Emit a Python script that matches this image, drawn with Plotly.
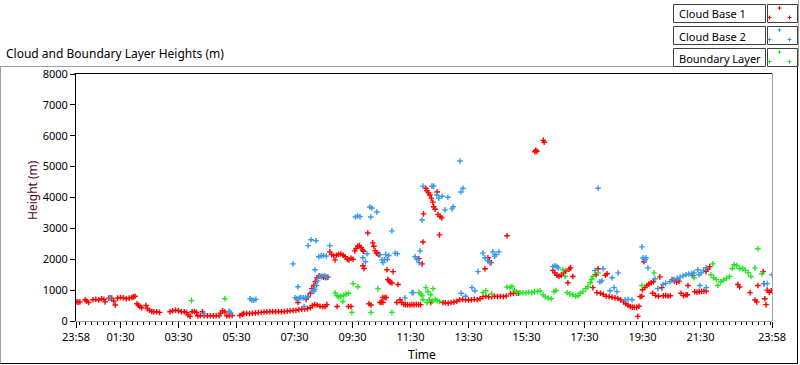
import plotly.graph_objects as go

# ---------------- data (time in hours of day, height in m) ----------------
red_t = [-0.03, 0.03, 0.1, 0.28, 0.33, 0.4, 0.55, 0.65, 0.75, 0.85, 0.93, 0.97,
         1.1, 1.2, 1.27, 1.32, 1.4, 1.5, 1.6, 1.7, 1.8, 1.9, 1.95, 2.0,
         2.07, 2.12, 2.17, 2.23, 2.38, 2.43, 2.5, 2.58, 2.65, 2.75, 2.85,
         3.21, 3.3, 3.4, 3.5, 3.6, 3.7, 3.78, 3.83, 3.9, 3.97, 4.05, 4.12,
         4.17, 4.25, 4.33, 4.38, 4.5, 4.6, 4.7, 4.8, 4.9, 4.95, 5.02, 5.1,
         5.17, 5.25, 5.35, 5.62, 5.7, 5.75, 5.85, 5.95, 6.05, 6.15, 6.25, 6.35,
         6.45, 6.55, 6.65, 6.75, 6.85, 6.95, 7.05, 7.15, 7.25, 7.35, 7.45, 7.55,
         7.62, 7.65, 7.75, 7.85, 7.95, 8.05, 8.12, 8.2, 8.28, 8.38, 8.48, 8.55, 8.62,
         7.9, 7.97, 8.05, 8.1, 8.17, 8.22, 8.28, 8.35, 8.42, 8.5, 8.58, 8.65,
         8.72, 8.78, 8.85, 8.9, 8.95, 9.02, 9.1, 9.18, 9.25, 9.32, 9.38, 9.45, 9.52,
         9.58, 9.62, 9.68, 9.74, 9.8, 9.85, 9.88, 9.86, 9.9, 10.03,
         10.2, 10.24, 10.28, 10.33, 10.38, 10.42, 10.69, 10.72, 10.76, 10.8, 10.86, 10.9, 11.07,
         8.97, 9.36, 9.45, 10.07, 10.14, 10.45, 10.5, 10.55, 10.55, 10.62, 10.66, 11.03,
         11.14, 11.2, 11.27, 11.33, 11.4, 11.48, 11.55, 11.62, 11.7, 11.78, 11.85,
         11.79, 11.9, 11.93, 11.95, 12.03, 12.07, 12.12, 12.17, 12.22, 12.27, 12.3, 12.35,
         12.42, 12.45, 12.5, 12.52, 12.58,
         12.2, 12.62, 12.7, 12.8, 12.9, 13.0, 13.1, 13.2, 13.3, 13.4, 13.5, 13.6, 13.7,
         13.8, 13.9, 14.0, 14.1, 14.2, 14.3, 14.4, 14.5, 14.6, 14.7, 14.8, 14.95, 15.05,
         15.15, 15.22, 14.07, 14.17, 14.22, 14.28, 14.83,
         15.79, 15.82, 15.86, 16.08, 16.11,
         16.41, 16.48, 16.55, 16.62, 16.7, 16.78, 16.85, 16.93, 16.97, 17.02, 17.1,
         17.79, 17.9, 17.93, 17.97, 18.05, 18.15, 18.22, 18.28, 18.25, 18.35, 18.45,
         18.55, 18.65, 18.75, 18.85, 18.92, 19.0, 19.08, 19.15, 19.22, 19.3, 19.34,
         19.38, 19.42, 19.48, 19.5, 19.55, 19.58, 19.65, 19.72, 19.8, 19.88, 19.85,
         19.95, 20.05, 20.1, 20.17, 20.22, 20.3, 20.38, 20.46, 20.52, 20.6, 20.68,
         20.76, 20.83, 20.92, 21.0, 21.05, 21.07, 21.24, 21.3, 21.38, 21.46, 21.54,
         21.62, 21.7, 21.69, 21.75, 21.82, 22.79, 22.85, 23.21, 23.38, 23.44, 23.48,
         23.66, 23.69, 23.72, 23.76, 23.8, 23.87, 23.94]
red_h = [620, 610, 620, 690, 650, 600, 690, 700, 680, 720, 700, 620,
         740, 740, 650, 520, 740, 760, 750, 720, 740, 760, 780, 800,
         560, 510, 470, 430, 500, 400, 350, 310, 300, 300, 280,
         300, 330, 350, 330, 300, 300, 270, 200, 150, 300, 310, 280,
         170, 170, 300, 170, 170, 170, 170, 170, 170, 250, 330, 290,
         170, 170, 180, 180, 220, 240, 250, 240, 250, 260, 270, 280,
         290, 300, 300, 310, 300, 310, 300, 310, 320, 330, 340, 350,
         600, 370, 380, 390, 400, 430, 500, 530, 520, 480, 460, 470, 530,
         700, 780, 900, 1050, 1150, 1280, 1400, 1460, 1440, 1420, 1400, 1420,
         2240, 2150, 2120, 1980, 2130, 2160, 2170, 2130, 2080, 2000, 1980, 2030, 2000,
         2270, 2350, 2420, 2440, 2380, 2300, 2260, 1790, 1700, 2850,
         2530, 2420, 2280, 2200, 2170, 2150, 1660, 1340, 1300, 1260, 1230, 1600, 1180,
         470, 470, 470, 560, 520, 600, 620, 600, 760, 760, 760, 600,
         690, 600, 540, 530, 530, 520, 530, 530, 540, 530, 530,
         2020, 1850, 2560, 3470, 4300, 4220, 4150, 4080, 3980, 3850, 3700, 3620,
         4180, 3450, 2790, 3380, 3340,
         600, 600, 590, 580, 600, 610, 640, 690, 700, 690, 680, 690, 700,
         690, 720, 790, 800, 780, 790, 800, 790, 800, 790, 810, 880, 900,
         910, 900, 1690, 2050, 1950, 1890, 2760,
         5480, 5530, 5500, 5850, 5790,
         1640, 1560, 1480, 1450, 1480, 1560, 1620, 1240, 1680, 1720, 1440,
         1080, 1500, 920, 1690, 900, 860, 1480, 1530, 800, 790, 770,
         750, 730, 690, 620, 560, 510, 470, 450, 440, 440, 150,
         480, 790, 800, 1010, 1920, 1080, 1150, 1200, 1240, 1270, 900,
         830, 800, 1430, 1080, 820, 830, 810, 820, 1340, 1300, 1260,
         1290, 900, 820, 840, 850, 1150, 1470, 950, 930, 950, 960,
         960, 970, 1600, 1680, 1760, 1180, 1100, 920, 680, 620, 1150,
         1600, 1210, 720, 530, 1000, 930, 980]

blue_t = [1.15, 4.38, 5.25, 5.3, 5.97, 6.03, 6.1, 6.17, 7.45, 7.52, 7.58, 7.62,
          7.66, 7.72, 7.8, 7.83, 7.88, 7.95, 7.97, 8.07, 8.1, 8.17, 8.2, 8.21, 8.24,
          8.26, 8.3, 8.34, 8.36, 8.42, 8.45, 8.5, 8.55, 8.6, 8.62, 8.72, 9.6, 9.68,
          9.76, 9.86, 9.95, 10.0, 10.1, 10.13, 10.17, 10.34, 10.45, 10.52, 10.55,
          10.6, 10.65, 10.7, 10.75, 10.86, 10.97, 11.05, 11.31, 11.55, 11.6, 11.66,
          11.72, 11.8, 11.83, 11.9, 11.93, 12.24, 12.3, 12.41, 12.48, 12.59, 12.69,
          12.79, 12.93, 12.97, 13.21, 13.24, 13.25, 13.31, 13.4, 13.62, 13.72, 13.83,
          14.0, 14.07, 14.17, 14.24, 14.34, 14.4, 14.45, 14.55, 16.41, 16.48, 16.55,
          16.6, 17.86, 17.97, 18.03, 18.1, 18.14, 18.38, 18.45, 18.52, 18.62, 18.66,
          18.9, 19.0, 19.14, 19.48, 19.52, 19.56, 19.6, 19.62, 19.69, 19.93, 20.03,
          20.21, 20.3, 20.45, 20.59, 20.7, 20.8, 20.9, 21.0, 21.1, 21.2, 21.28,
          21.41, 21.45, 21.48, 21.52, 21.6, 21.69, 21.7, 23.69, 23.8, 23.97]
blue_h = [750, 240, 320, 260, 720, 680, 670, 700, 1850, 750, 720, 1110,
          740, 760, 750, 470, 760, 780, 2440, 2630, 950, 960, 1020, 1660, 2600,
          1150, 1300, 2080, 1440, 2110, 1450, 2120, 1460, 2100, 1430, 2440, 3370, 3400,
          3380, 2050, 1920, 2180, 3690, 3370, 3660, 3530, 2150, 1980, 1890,
          1980, 2150, 1990, 2120, 2920, 2200, 2180, 750, 920, 920, 2080,
          2000, 1890, 2270, 3270, 4370, 4370, 4370, 4080, 3980, 4040, 3600,
          4010, 3630, 3700, 5180, 4180, 900, 4300, 800, 1080, 980, 1600,
          2200, 2050, 1950, 1890, 2240, 2100, 2150, 2240, 1760, 1790, 1760,
          1720, 1630, 4300, 1270, 1300, 1690, 980, 1400, 1080, 950, 1560,
          690, 700, 690, 2400, 2050, 2000, 1980, 2050, 1720, 1370, 1050,
          1180, 1220, 1270, 1340, 1380, 1420, 1460, 1500, 1520, 1540, 1560,
          1660, 1500, 1150, 1560, 1640, 1720, 1080, 1210, 1210, 1500]

green_t = [3.95, 5.1, 8.9, 8.97, 9.03, 9.1, 9.17, 9.2, 9.28, 9.36, 9.48, 9.52, 9.69,
           10.14, 10.38, 10.86, 11.8, 11.86, 11.9, 11.93, 12.03, 12.07, 12.1, 12.15,
           12.2, 12.25, 12.28, 12.35, 12.42, 12.5, 14.0, 14.1, 14.3, 14.83, 14.93,
           15.0, 15.08, 15.17, 15.28, 15.38, 15.48, 15.58, 15.68, 15.78, 15.88, 15.97,
           16.07, 16.15, 16.25, 16.35, 16.45, 16.52, 16.76, 16.83, 16.9, 17.0, 17.1,
           17.2, 17.28, 17.35, 17.45, 17.55, 17.62, 17.7, 17.75, 17.79, 17.97, 19.48,
           19.9, 21.28, 21.86, 21.93, 21.95, 22.05, 22.1, 22.2, 22.3, 22.4, 22.5,
           22.6, 22.66, 22.75, 22.85, 22.95, 23.05, 23.15, 23.24, 23.38, 23.48, 23.62]
green_h = [660, 720, 910, 820, 780, 800, 630, 830, 870, 900, 280, 1210, 1110,
           280, 1050, 280, 920, 880, 820, 690, 1080, 600, 950, 690,
           850, 650, 1050, 700, 660, 630, 920, 980, 880, 1100, 1080,
           1120, 1000, 930, 920, 920, 910, 930, 920, 950, 960, 980,
           850, 780, 740, 720, 950, 990, 1660, 1440, 920, 880, 850,
           800, 820, 900, 950, 1050, 1110, 1240, 1350, 1440, 1560, 1150,
           1560, 1400, 1500, 1850, 1400, 1340, 1150, 1270, 1330, 1380, 1440,
           1700, 1820, 1800, 1700, 1700, 1640, 1560, 1440, 1720, 2340, 1530]

series_names = ["Cloud Base 1", "Cloud Base 2", "Boundary Layer"]
series_colors = ["#ff0000", "#3399f0", "#22e622"]

tick_vals = [-2 / 60, 1.5, 3.5, 5.5, 7.5, 9.5, 11.5, 13.5, 15.5, 17.5, 19.5, 21.5, 24 - 2 / 60]
tick_text = ["23:58", "01:30", "03:30", "05:30", "07:30", "09:30", "11:30",
             "13:30", "15:30", "17:30", "19:30", "21:30", "23:58"]
y_ticks = [0, 1000, 2000, 3000, 4000, 5000, 6000, 7000, 8000]

# ---------------- layout geometry (pixels) ----------------
W, H = 800, 365
PL, PR, PT, PB = 76, 772, 74, 321
FONT = "Noto Sans"


def px(x):
    return (x - PL) / (PR - PL)


def py(y):
    return (PB - y) / (PB - PT)


fig = go.Figure()
for name, t, h, c in zip(series_names, [red_t, blue_t, green_t],
                         [red_h, blue_h, green_h], series_colors):
    fig.add_trace(go.Scatter(
        x=t, y=h, mode="markers", name=name, showlegend=False,
        marker=dict(symbol="cross-thin", size=4, color=c,
                    line=dict(width=1.4, color=c)),
    ))

shapes = []


def line(x0, y0, x1, y1, color, width=1):
    shapes.append(dict(type="line", xref="paper", yref="paper",
                       x0=px(x0), y0=py(y0), x1=px(x1), y1=py(y1),
                       line=dict(color=color, width=width)))


def rect(x0, y0, x1, y1, color):
    shapes.append(dict(type="rect", xref="paper", yref="paper",
                       x0=px(x0), y0=py(y0), x1=px(x1), y1=py(y1),
                       line=dict(color=color, width=1), fillcolor="white"))


# outer frame
line(0, 66.5, 673, 66.5, "#a0a0a0")
line(0.5, 66.5, 0.5, 363.5, "#a0a0a0")
line(0.5, 363.5, 798, 363.5, "#000000")
line(797.5, 66.5, 797.5, 363.5, "#000000")
line(798.5, 0, 798.5, 67, "#a0a0a0")
# plot frame: top black, right grey
line(PL - 1.5, PT - 0.5, PR, PT - 0.5, "#000000")
line(PR + 0.5, PT - 0.5, PR + 0.5, PB, "#a0a0a0")

annotations = []
# legend
row_tops = [4.5, 26.5, 48.5]
cross_offsets = [(12, 3.5), (2, 13), (22, 13)]
for name, c, top in zip(series_names, series_colors, row_tops):
    rect(673.5, top, 765.5, top + 18, "#404040")
    rect(767.5, top, 797.5, top + 18, "#404040")
    annotations.append(dict(x=px(677), y=py(top + 9.5), xref="paper", yref="paper",
                            text=name, showarrow=False, xanchor="left", yanchor="middle",
                            font=dict(family=FONT, size=11, color="#000")))
    for dx, dy in cross_offsets:
        cx, cy = 767.5 + dx, top + dy
        line(cx - 2, cy, cx + 2, cy, c, 1)
        line(cx, cy - 2, cx, cy + 2, c, 1)

annotations.append(dict(x=px(4), y=py(54), xref="paper", yref="paper",
                        text="Cloud and Boundary Layer Heights (m)", showarrow=False,
                        xanchor="left", yanchor="middle",
                        font=dict(family=FONT, size=12, color="#000")))
annotations.append(dict(x=px(32), y=py(190), xref="paper", yref="paper",
                        text="Height (m)", showarrow=False, textangle=-90,
                        xanchor="center", yanchor="middle",
                        font=dict(family=FONT, size=12, color="#500a28")))
annotations.append(dict(x=px(422), y=py(354), xref="paper", yref="paper",
                        text="Time", showarrow=False, xanchor="center", yanchor="middle",
                        font=dict(family=FONT, size=12, color="#000")))

fig.update_layout(
    width=W, height=H,
    margin=dict(l=PL, r=W - PR, t=PT, b=H - PB, pad=0),
    paper_bgcolor="white", plot_bgcolor="white",
    showlegend=False,
    shapes=shapes, annotations=annotations,
    font=dict(family=FONT, size=11, color="#000"),
    xaxis=dict(range=[-2 / 60, 24 - 2 / 60], tickmode="array", tickvals=tick_vals,
               ticktext=tick_text, ticks="outside", ticklen=6, tickcolor="#000",
               tickwidth=1, showgrid=False, zeroline=False, showline=True,
               linecolor="#a0a0a0", linewidth=1,
               tickfont=dict(family=FONT, size=11, color="#000"),
               minor=dict(tickmode="linear", tick0=1.5, dtick=0.2, ticks="outside",
                          ticklen=3, tickcolor="#000", showgrid=False)),
    yaxis=dict(range=[0, 8000], tickmode="array", tickvals=y_ticks,
               ticks="outside", ticklen=5, tickcolor="#000", showgrid=False,
               zeroline=False, showline=True, linecolor="#000", linewidth=1,
               tickfont=dict(family=FONT, size=11, color="#000")),
)

fig.write_html("out.html", config={"displayModeBar": False},
               post_script="document.body.style.margin='0';")
